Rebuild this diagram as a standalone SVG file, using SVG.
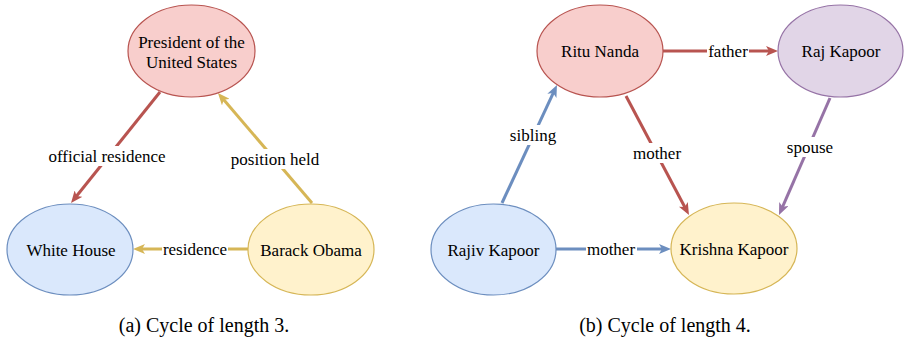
<svg xmlns="http://www.w3.org/2000/svg" width="904" height="345" viewBox="0 0 904 345">
  <style>
    text { font-family: "Liberation Serif", "Times New Roman", serif; }
    .node text, .lbl text { font-size: 17px; fill: #000; text-anchor: middle; }
    .node ellipse { stroke-width: 1.2; }
    .red ellipse { fill: #f8cecc; stroke: #b85450; }
    .blue ellipse { fill: #dae8fc; stroke: #6c8ebf; }
    .yellow ellipse { fill: #fff2cc; stroke: #d6b656; }
    .purple ellipse { fill: #e1d5e7; stroke: #9673a6; }
    .edge { fill: none; stroke-width: 3; }
    .lbl rect { fill: #fff; }
    .caption { font-size: 20px; fill: #000; text-anchor: middle; }
  </style>
  <defs>
    <marker id="arrRed" viewBox="0 0 12 10" refX="5" refY="5" markerWidth="12" markerHeight="10" markerUnits="userSpaceOnUse" orient="auto">
      <path d="M0,0 L12,5 L0,10 L3,5 Z" fill="#b85450"/>
    </marker>
    <marker id="arrYellow" viewBox="0 0 12 10" refX="5" refY="5" markerWidth="12" markerHeight="10" markerUnits="userSpaceOnUse" orient="auto">
      <path d="M0,0 L12,5 L0,10 L3,5 Z" fill="#d6b656"/>
    </marker>
    <marker id="arrBlue" viewBox="0 0 12 10" refX="5" refY="5" markerWidth="12" markerHeight="10" markerUnits="userSpaceOnUse" orient="auto">
      <path d="M0,0 L12,5 L0,10 L3,5 Z" fill="#6c8ebf"/>
    </marker>
    <marker id="arrPurple" viewBox="0 0 12 10" refX="5" refY="5" markerWidth="12" markerHeight="10" markerUnits="userSpaceOnUse" orient="auto">
      <path d="M0,0 L12,5 L0,10 L3,5 Z" fill="#9673a6"/>
    </marker>
  </defs>

  <!-- connectors -->
  <g id="edges">
    <line class="edge" x1="160" y1="92" x2="75.4" y2="197.5" stroke="#b85450" marker-end="url(#arrRed)"/>
    <line class="edge" x1="312" y1="203" x2="222.5" y2="98.3" stroke="#d6b656" marker-end="url(#arrYellow)"/>
    <line class="edge" x1="248" y1="249" x2="140" y2="249" stroke="#d6b656" marker-end="url(#arrYellow)"/>
    <line class="edge" x1="663" y1="51" x2="771" y2="51" stroke="#b85450" marker-end="url(#arrRed)"/>
    <line class="edge" x1="502" y1="203" x2="554" y2="91.3" stroke="#6c8ebf" marker-end="url(#arrBlue)"/>
    <line class="edge" x1="626" y1="96" x2="685.7" y2="208.8" stroke="#b85450" marker-end="url(#arrRed)"/>
    <line class="edge" x1="830" y1="98" x2="781.8" y2="208.6" stroke="#9673a6" marker-end="url(#arrPurple)"/>
    <line class="edge" x1="556" y1="249" x2="664" y2="249" stroke="#6c8ebf" marker-end="url(#arrBlue)"/>

    <g class="lbl">
      <rect x="48" y="146" width="118" height="20"/><text x="107" y="162">official residence</text>
      <rect x="230" y="149" width="90" height="20"/><text x="275" y="165">position held</text>
      <rect x="162" y="239" width="66" height="20"/><text x="195" y="255">residence</text>
      <rect x="707" y="41" width="42" height="20"/><text x="728" y="57">father</text>
      <rect x="508" y="125" width="51" height="20"/><text x="533" y="141">sibling</text>
      <rect x="631" y="143" width="52" height="20"/><text x="657" y="159">mother</text>
      <rect x="785" y="137" width="50" height="20"/><text x="810" y="153">spouse</text>
      <rect x="586" y="239" width="51" height="20"/><text x="611" y="255">mother</text>
    </g>
  </g>

  <!-- nodes: cycle of length 3 -->
  <g id="president" class="node red">
    <ellipse cx="191.5" cy="51" rx="63.5" ry="46"/>
    <text x="191.5" y="48">President of the</text>
    <text x="191.5" y="68">United States</text>
  </g>
  <g id="white-house" class="node blue">
    <ellipse cx="70" cy="249.5" rx="63" ry="45.5"/>
    <text x="71" y="255.5">White House</text>
  </g>
  <g id="barack-obama" class="node yellow">
    <ellipse cx="311" cy="249.5" rx="63" ry="45.5"/>
    <text x="311" y="255.5">Barack Obama</text>
  </g>

  <!-- nodes: cycle of length 4 -->
  <g id="ritu-nanda" class="node red">
    <ellipse cx="600" cy="51" rx="63" ry="46"/>
    <text x="600" y="57">Ritu Nanda</text>
  </g>
  <g id="raj-kapoor" class="node purple">
    <ellipse cx="840.5" cy="51" rx="62.5" ry="46"/>
    <text x="841" y="57">Raj Kapoor</text>
  </g>
  <g id="rajiv-kapoor" class="node blue">
    <ellipse cx="493.5" cy="249.5" rx="62.5" ry="45.5"/>
    <text x="493.5" y="255.5">Rajiv Kapoor</text>
  </g>
  <g id="krishna-kapoor" class="node yellow">
    <ellipse cx="734" cy="248.5" rx="63" ry="45.5"/>
    <text x="734" y="254.5">Krishna Kapoor</text>
  </g>

  <!-- sub-figure captions -->
  <text class="caption" x="204" y="332">(a) Cycle of length 3.</text>
  <text class="caption" x="665" y="332">(b) Cycle of length 4.</text>
</svg>
